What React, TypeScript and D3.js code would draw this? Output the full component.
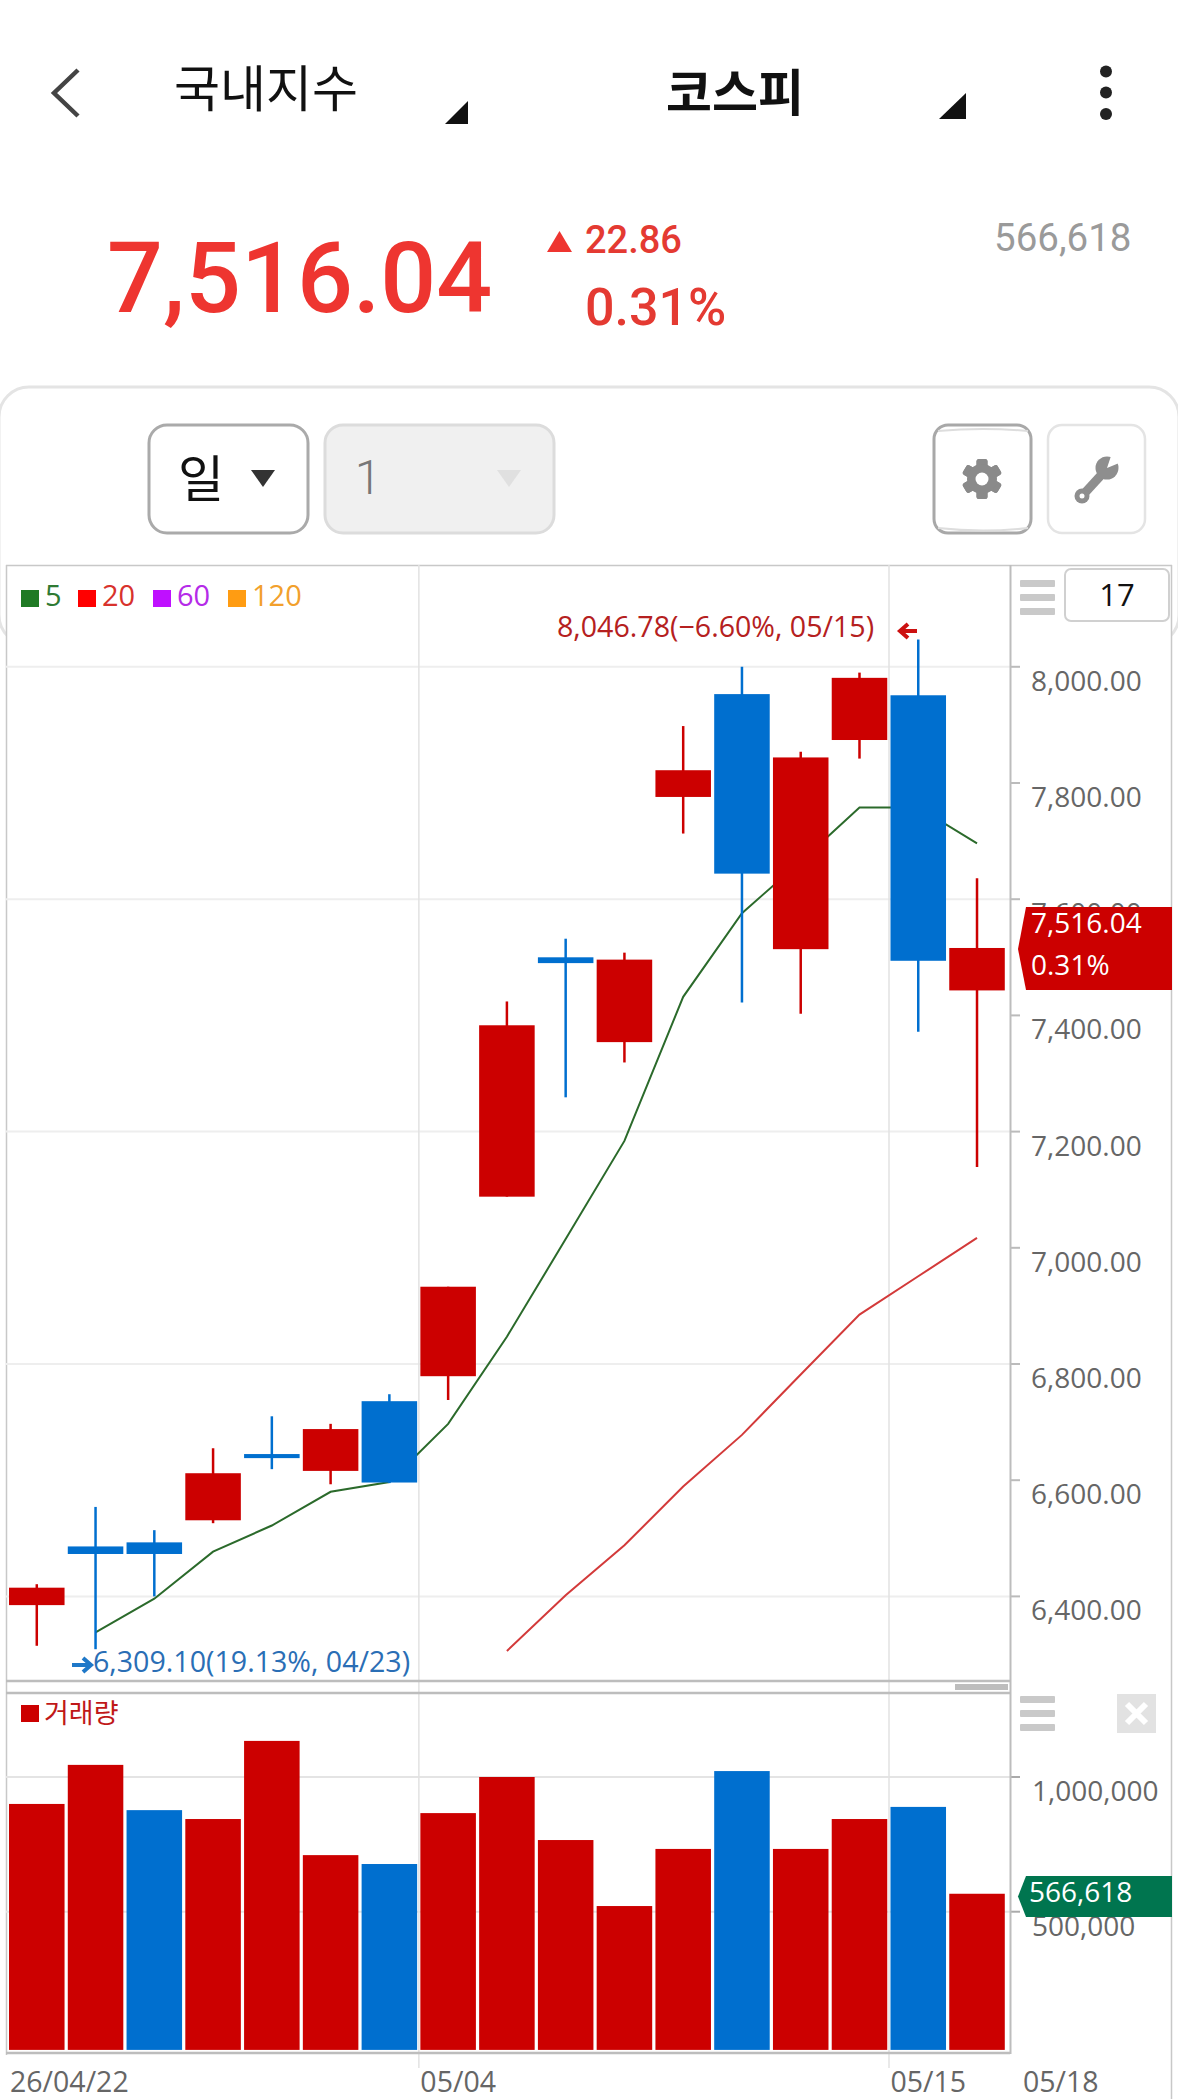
import React from "react";
import * as d3 from "d3";

const indices = d3.range(17);
const opens =  [6415, 6486, 6493, 6531, 6645, 6616, 6736, 6779, 7088, 7500, 7354, 7776, 7953, 7514, 7874, 7951, 7443];
const closes = [6385, 6473, 6473, 6612, 6638, 6688, 6596, 6933, 7383, 7490, 7496, 7822, 7644, 7844, 7981, 7494, 7516.04];
const highs =  [6421, 6554, 6514, 6655, 6710, 6697, 6748, 6933, 7424, 7532, 7508, 7898, 8000, 7854, 7990, 8046.78, 7636];
const lows =   [6315, 6309.1, 6400, 6526, 6619, 6593, 6595, 6738, 7088, 7259, 7319, 7713, 7422, 7403, 7842, 7372, 7139];
const isBlue = [false, true, true, false, true, false, true, false, false, true, false, false, true, false, false, true, false];
const volumes = [900000, 1045000, 877000, 844000, 1134000, 710000, 677000, 866000, 1000000, 766000, 521000, 733000, 1022000, 733000, 844000, 889000, 566618];
const volBlue = [false, false, true, false, false, false, true, false, false, false, false, false, true, false, false, true, false];
const ma5: [number, number][] = [[1, 6338], [2, 6396], [3, 6477], [4, 6522], [5, 6580], [6, 6597], [7, 6697], [8, 6847], [9, 7015], [10, 7184], [11, 7432], [12, 7576], [13, 7665], [14, 7758], [15, 7758], [16, 7696]];
const ma20: [number, number][] = [[8, 6306], [9, 6402], [10, 6488], [11, 6589], [12, 6678], [13, 6782], [14, 6885], [15, 6951], [16, 7017]];
const priceTicks = [8000, 7800, 7600, 7400, 7200, 7000, 6800, 6600, 6400];
const gridTicks = [8000, 7600, 7200, 6800, 6400];
const volumeTicks = [1000000, 500000];
const dateTicks: [number, string][] = [[0, "26/04/22"], [7, "05/04"], [15, "05/15"]];
const legend = [
  { label: "5", sq: "#1f7a24", txt: "#2f7a33", x: 21 },
  { label: "20", sq: "#ff0000", txt: "#d8322c", x: 78 },
  { label: "60", sq: "#bf10ff", txt: "#b52be8", x: 153 },
  { label: "120", sq: "#ff9c12", txt: "#f2a02c", x: 228 },
];

const RED = "#cc0000";
const BLUE = "#006fcf";
const SANS = "'Open Sans', 'Noto Sans', sans-serif";
const KR = "'Noto Sans CJK KR', sans-serif";
const ROBOTO = "Roboto, sans-serif";

const x = d3.scaleBand<number>().domain(indices).range([7.4, 1006.4]).paddingInner(0.055).paddingOuter(0.0275);
const cx = (i: number) => (x(i) as number) + x.bandwidth() / 2;
const y = d3.scaleLinear().domain([6400, 8000]).range([1596.4, 666.8]);
const yVol = d3.scaleLinear().domain([0, 1000000]).range([2046.4, 1777]);
const volFloor = -13000;
const lineGen = d3.line<[number, number]>().x((d) => cx(d[0])).y((d) => y(d[1]));
const priceFmt = d3.format(",.2f");
const volFmt = d3.format(",");

function Bars({ x: bx, ys }: { x: number; ys: number[] }) {
  return (
    <g fill="#c9c9c9">
      {ys.map((v) => (
        <rect key={v} x={bx} y={v} width={35} height={7} rx={1} />
      ))}
    </g>
  );
}

function Gear({ cx: gx, cy: gy }: { cx: number; cy: number }) {
  return (
    <g fill="#8a8a8a">
      {d3.range(6).map((k) => (
        <rect key={k} x={gx - 5.5} y={gy - 20} width={11} height={40} rx={2.5} transform={`rotate(${k * 60} ${gx} ${gy})`} />
      ))}
      <circle cx={gx} cy={gy} r={15} />
      <circle cx={gx} cy={gy} r={6.5} fill="#fff" />
    </g>
  );
}

function Wrench() {
  return (
    <g>
      <line x1={1082} x2={1104} y1={496} y2={472} stroke="#8e8e8e" strokeWidth={9} />
      <circle cx={1082} cy={496} r={7.5} fill="#8e8e8e" />
      <circle cx={1082} cy={496} r={2.5} fill="#fff" />
      <circle cx={1107} cy={468} r={11.5} fill="#8e8e8e" />
      <path d="M1107 468 L1113 450 L1124 461 Z" fill="#fff" />
    </g>
  );
}

export default function App() {
  const barW = x.bandwidth();
  return (
    <svg width={1178} height={2099} style={{ position: "absolute", left: 0, top: 0, background: "#fff" }}>
      <rect width={1178} height={2099} fill="#fff" />

      {/* Header */}
      <path d="M78 70 L54 93 L78 116" fill="none" stroke="#444" strokeWidth={4.5} />
      <text x={174} y={107} fontFamily={KR} fontSize={50} fill="#111">국내지수</text>
      <path d="M445 124 L468 101 L468 124 Z" fill="#111" />
      <text x={666} y={111} fontFamily={KR} fontSize={50} fontWeight={700} fill="#111">코스피</text>
      <path d="M939 119 L966 93 L966 119 Z" fill="#111" />
      <circle cx={1106} cy={71.5} r={6} fill="#222" />
      <circle cx={1106} cy={92.5} r={6} fill="#222" />
      <circle cx={1106} cy={114} r={6} fill="#222" />

      {/* Quote */}
      <text x={107} y={312} fontFamily={ROBOTO} fontWeight={500} fontSize={98.5} fill="#ee3530">7,516.04</text>
      <path d="M559.5 231 L572 252 L547 252 Z" fill="#ee3530" />
      <text x={585} y={253} fontFamily={ROBOTO} fontWeight={500} fontSize={38} fill="#e43a32">22.86</text>
      <text x={585} y={325} fontFamily={ROBOTO} fontWeight={500} fontSize={52} fill="#e43a32">0.31%</text>
      <text x={994} y={251} fontFamily={ROBOTO} fontSize={38.5} fill="#9a9a9a">566,618</text>

      {/* Card */}
      <rect x={-1} y={387} width={1180} height={258} rx={30} fill="#fff" stroke="#e4e4e4" strokeWidth={3} />

      {/* Buttons */}
      <rect x={149} y={425} width={159} height={108} rx={18} fill="#fff" stroke="#aaa" strokeWidth={3} />
      <text x={201} y={497} textAnchor="middle" fontFamily={KR} fontSize={50} fill="#111">일</text>
      <path d="M251 470 L275 470 L263 487 Z" fill="#333" />
      <rect x={325} y={425} width={229} height={108} rx={18} fill="#f0f0f0" stroke="#dcdcdc" strokeWidth={3} />
      <text x={368} y={494} textAnchor="middle" fontFamily={ROBOTO} fontSize={48} fontWeight={300} fill="#777">1</text>
      <path d="M497 470 L521 470 L509 487 Z" fill="#e0e0e0" />
      <rect x={934} y={425} width={97} height={108} rx={14} fill="#fff" stroke="#a8a8a8" strokeWidth={3} />
      <path d="M938 528 Q 983 533 1028 528" fill="none" stroke="#ddd" strokeWidth={2} />
      <path d="M938 431 Q 983 427 1028 431" fill="none" stroke="#ddd" strokeWidth={2} />
      <Gear cx={982} cy={479} />
      <rect x={1048} y={425} width={97} height={108} rx={14} fill="#fff" stroke="#e4e4e4" strokeWidth={2.5} />
      <Wrench />

      {/* Chart frame */}
      <rect x={6} y={565} width={1166} height={1532} fill="#fff" />
      <path d="M6 565.5 H1172 M6.5 565 V2055 M1171.5 565 V2099" fill="none" stroke="#c8c8c8" strokeWidth={1.5} />

      {/* Grid */}
      {gridTicks.map((t) => (
        <line key={t} x1={6} x2={1010} y1={y(t)} y2={y(t)} stroke="#eeeeee" strokeWidth={2} />
      ))}
      {priceTicks.map((t) => (
        <g key={t}>
          <line x1={1010} x2={1020} y1={y(t)} y2={y(t)} stroke="#bbb" strokeWidth={2} />
          <text x={1031} y={y(t) + 24} fontFamily={SANS} fontSize={28} fill="#666">{priceFmt(t)}</text>
        </g>
      ))}
      {volumeTicks.map((t) => (
        <g key={t}>
          <line x1={6} x2={1010} y1={yVol(t)} y2={yVol(t)} stroke="#e4e4e4" strokeWidth={2} />
          <line x1={1010} x2={1020} y1={yVol(t)} y2={yVol(t)} stroke="#aaa" strokeWidth={2} />
          <text x={1032} y={yVol(t) + 24} fontFamily={SANS} fontSize={28} fill="#666">{volFmt(t)}</text>
        </g>
      ))}
      {dateTicks.slice(1).map(([i]) => (
        <line key={i} x1={(x(i) as number) - 1.5} x2={(x(i) as number) - 1.5} y1={565} y2={2068} stroke="#e2e2e2" strokeWidth={1.5} />
      ))}

      {/* Moving averages */}
      <path d={lineGen(ma5) as string} fill="none" stroke="#2b6a2b" strokeWidth={2} />
      <path d={lineGen(ma20) as string} fill="none" stroke="#d33a3a" strokeWidth={2} />

      {/* Candles */}
      {indices.map((i) => {
        const c = isBlue[i] ? BLUE : RED;
        const top = y(Math.max(opens[i], closes[i]));
        const bot = y(Math.min(opens[i], closes[i]));
        return (
          <g key={i}>
            <line x1={cx(i)} x2={cx(i)} y1={y(highs[i])} y2={y(lows[i])} stroke={c} strokeWidth={2.5} />
            <rect x={x(i)} y={top} width={barW} height={Math.max(bot - top, 4)} fill={c} />
          </g>
        );
      })}

      {/* Volume */}
      {indices.map((i) => (
        <rect key={i} x={x(i)} y={yVol(volumes[i])} width={barW} height={yVol(volFloor) - yVol(volumes[i])} fill={volBlue[i] ? BLUE : RED} />
      ))}

      {/* Pane borders and right axis */}
      <path d="M6 1681 H1010 M6 1693 H1010 M6 2053 H1010" fill="none" stroke="#bdbdbd" strokeWidth={2.5} />
      <line x1={1010.5} x2={1010.5} y1={565} y2={2054} stroke="#bdbdbd" strokeWidth={2} />
      <rect x={955} y={1684} width={53} height={6} fill="#bdbdbd" />

      {/* Legend */}
      {legend.map((l) => (
        <g key={l.label}>
          <rect x={l.x} y={590} width={18} height={17} fill={l.sq} />
          <text x={l.x + 24} y={606} fontFamily={SANS} fontSize={29} fill={l.txt}>{l.label}</text>
        </g>
      ))}
      <rect x={21} y={1705} width={18} height={17} fill={RED} />
      <text x={44} y={1723} fontFamily={KR} fontSize={27} fill="#c01818">거래량</text>

      {/* Controls inside chart */}
      <Bars x={1020} ys={[580, 594, 608]} />
      <rect x={1065} y={569} width={104} height={52} rx={6} fill="#fff" stroke="#d0d0d0" strokeWidth={2} />
      <text x={1117} y={606} textAnchor="middle" fontFamily={SANS} fontSize={31} fill="#111">17</text>
      <Bars x={1020} ys={[1696, 1710, 1724]} />
      <rect x={1117} y={1694} width={39} height={39} fill="#e2e2e2" />
      <path d="M1127 1704 L1146 1723 M1146 1704 L1127 1723" stroke="#fff" strokeWidth={6} />

      {/* Annotations */}
      <text x={557} y={637} fontFamily={SANS} fontSize={28.6} fill="#b52020">8,046.78(−6.60%, 05/15)</text>
      <path d="M917 631 H901 M908 624 L900 631 L908 638" fill="none" stroke="#cc1111" strokeWidth={4} />
      <path d="M72 1665 H90 M83 1658 L91 1665 L83 1672" fill="none" stroke="#1f78c8" strokeWidth={4} />
      <text x={93} y={1672} fontFamily={SANS} fontSize={28.6} fill="#2a6eb5">6,309.10(19.13%, 04/23)</text>

      {/* Price tags */}
      <path d="M1026 907 H1172 V990 H1026 L1018 949 Z" fill={RED} />
      <text x={1031} y={933} fontFamily={SANS} fontSize={28} fill="#fff">{priceFmt(closes[16])}</text>
      <text x={1031} y={975} fontFamily={SANS} fontSize={28} fill="#fff">0.31%</text>
      <path d="M1026 1876 H1172 V1917 H1026 L1018 1896.5 Z" fill="#00754f" />
      <text x={1029} y={1902} fontFamily={SANS} fontSize={28} fill="#fff">{volFmt(volumes[16])}</text>

      {/* Date labels */}
      {dateTicks.map(([i, s]) => (
        <text key={s} x={x(i) as number + (i === 0 ? 1 : 0)} y={2092} fontFamily={SANS} fontSize={28.5} fill="#666">{s}</text>
      ))}
      <text x={1023} y={2092} fontFamily={SANS} fontSize={28.5} fill="#666">05/18</text>
    </svg>
  );
}
